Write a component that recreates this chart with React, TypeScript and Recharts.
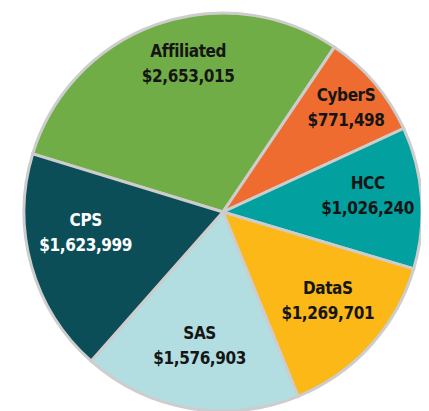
import { PieChart, Pie, Cell } from "recharts";

const categories = ["Affiliated", "CyberS", "HCC", "DataS", "SAS", "CPS"];
const amounts = [2653015, 771498, 1026240, 1269701, 1576903, 1623999];
const colors = ["#71ad46", "#ee6c2f", "#02a09e", "#fbb816", "#b2dee2", "#0b4e58"];
const labelColors = ["#151515", "#151515", "#151515", "#151515", "#151515", "#ffffff"];

// label placement tweaks: radius factor and angle shift per slice
const labelRadius = [0.75, 0.8, 0.73, 0.7, 0.7, 0.7];
const labelShift = [-6, -1, 1, 1, 0, -6];

const data = categories.map((name, i) => ({ name, value: amounts[i] }));

const RADIAN = Math.PI / 180;
const fmt = (v: number) => "$" + v.toLocaleString("en-US");

const renderLabel = ({ cx, cy, midAngle, outerRadius, index, value, name }: any) => {
  const r = outerRadius * labelRadius[index];
  const a = midAngle + labelShift[index];
  const x = cx + r * Math.cos(-a * RADIAN);
  const y = cy + r * Math.sin(-a * RADIAN);
  return (
    <text
      x={x}
      y={y}
      fill={labelColors[index]}
      textAnchor="middle"
      fontSize={17}
      fontWeight="bold"
      letterSpacing={-0.4}
      fontFamily="'Liberation Sans Narrow', 'DejaVu Sans Condensed', sans-serif"
    >
      <tspan x={x} dy={-10}>{name}</tspan>
      <tspan x={x} dy={25}>{fmt(value)}</tspan>
    </text>
  );
};

export default function App() {
  return (
    <div style={{ width: 421, height: 403 }}>
      <PieChart width={421} height={403}>
        <Pie
          data={data}
          dataKey="value"
          nameKey="name"
          cx={210}
          cy={199}
          outerRadius={199}
          startAngle={163}
          endAngle={-197}
          stroke="#cdcdcd"
          strokeWidth={3}
          labelLine={false}
          label={renderLabel}
          isAnimationActive={false}
        >
          {data.map((d, i) => (
            <Cell key={d.name} fill={colors[i]} />
          ))}
        </Pie>
      </PieChart>
    </div>
  );
}
